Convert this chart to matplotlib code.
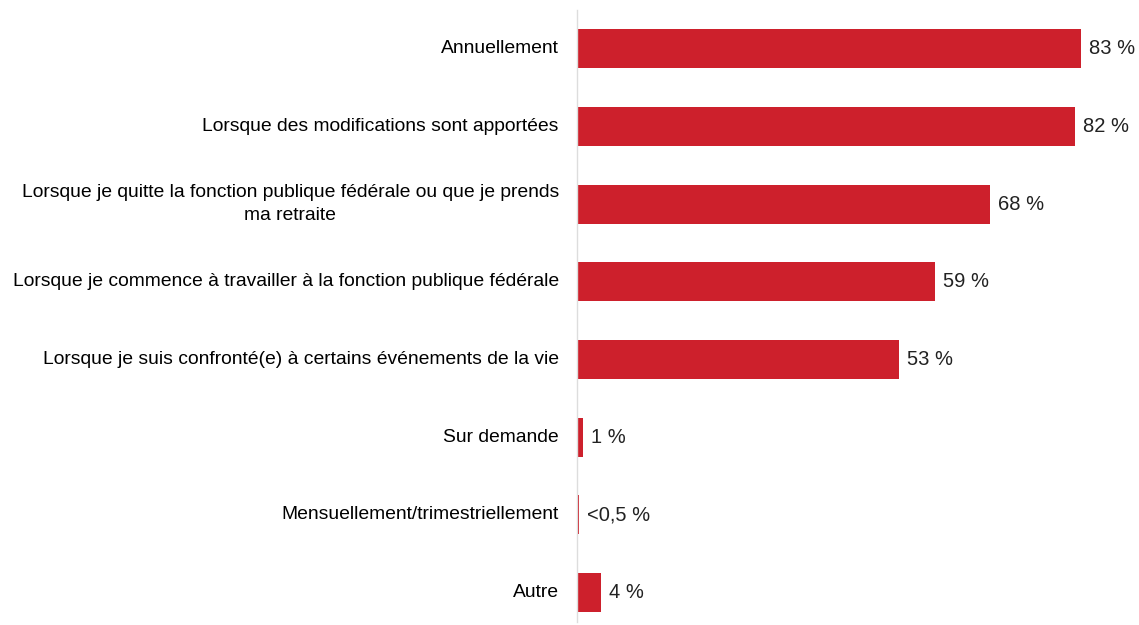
import matplotlib.pyplot as plt

categories = [
    "Annuellement",
    "Lorsque des modifications sont apportées",
    "Lorsque je quitte la fonction publique fédérale ou que je prends\nma retraite",
    "Lorsque je commence à travailler à la fonction publique fédérale",
    "Lorsque je suis confronté(e) à certains événements de la vie",
    "Sur demande",
    "Mensuellement/trimestriellement",
    "Autre",
]
values = [83, 82, 68, 59, 53, 1, 0.3, 4]
value_labels = ["83 %", "82 %", "68 %", "59 %", "53 %", "1 %", "<0,5 %", "4 %"]

red = "#CD202C"

fig = plt.figure(figsize=(11.39, 6.25), dpi=100)
ax = fig.add_axes([577 / 1139, 3 / 625, 1 - 577 / 1139, 612 / 625])

y = list(range(len(categories)))
ax.barh(y, values, height=0.5, color=red)
ax.set_xlim(0, (1139 - 577) / 6.07)
ax.set_ylim(7.38, -0.5)

for i, (v, lab) in enumerate(zip(values, value_labels)):
    ax.text(v + 1.3, i, lab, va="center", ha="left", fontsize=14.5,
            family="Liberation Sans", color="#222222")

for i, cat in enumerate(categories):
    ax.text(-3.0, i, cat, va="center", ha="right", multialignment="center",
            fontsize=13.9, family="Liberation Sans", color="#000000",
            linespacing=1.45)

ax.set_xticks([])
ax.set_yticks([])
for s in ["top", "right", "bottom"]:
    ax.spines[s].set_visible(False)
ax.spines["left"].set_color("#dddddd")
ax.spines["left"].set_linewidth(1.0)

fig.savefig("out.png", dpi=100)
